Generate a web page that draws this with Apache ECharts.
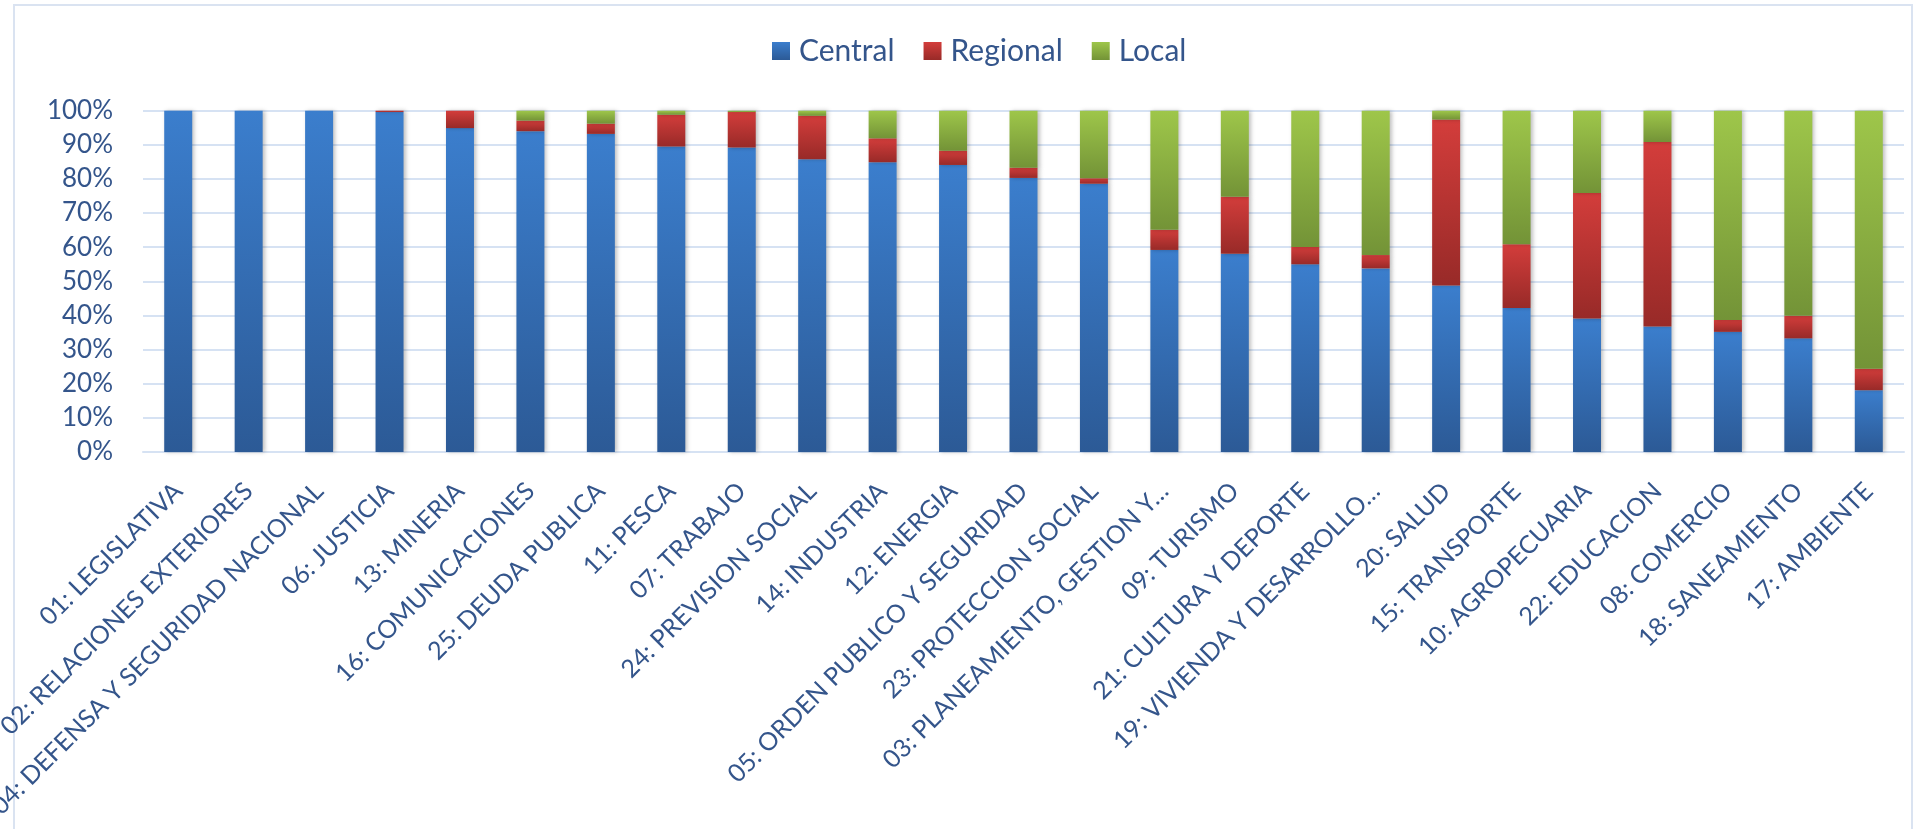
<!DOCTYPE html>
<html>
<head>
<meta charset="utf-8">
<script src="https://cdn.jsdelivr.net/npm/echarts@6/dist/echarts.min.js"></script>
<style>
html,body{margin:0;padding:0;background:#fff;}
#chart{width:1919px;height:829px;}
</style>
</head>
<body>
<div id="chart"></div>
<script>
const categories = ["01: LEGISLATIVA","02: RELACIONES EXTERIORES","04: DEFENSA Y SEGURIDAD NACIONAL","06: JUSTICIA","13: MINERIA","16: COMUNICACIONES","25: DEUDA PUBLICA","11: PESCA","07: TRABAJO","24: PREVISION SOCIAL","14: INDUSTRIA","12: ENERGIA","05: ORDEN PUBLICO Y SEGURIDAD","23: PROTECCION SOCIAL","03: PLANEAMIENTO, GESTION Y…","09: TURISMO","21: CULTURA Y DEPORTE","19: VIVIENDA Y DESARROLLO…","20: SALUD","15: TRANSPORTE","10: AGROPECUARIA","22: EDUCACION","08: COMERCIO","18: SANEAMIENTO","17: AMBIENTE"];
const central  = [100,100,100,99.6,94.9,94.0,93.2,89.5,89.2,85.8,84.9,84.1,80.3,78.6,59.2,58.1,55.0,53.8,48.8,42.2,39.1,36.8,35.2,33.3,18.1];
const regional = [0,0,0,0.4,5.1,3.1,3.0,9.3,10.4,12.7,7.0,4.2,3.0,1.6,5.9,16.7,5.1,3.9,48.6,18.7,36.8,54.0,3.5,6.6,6.3];
const local    = [0,0,0,0,0,2.9,3.8,1.2,0.4,1.5,8.1,11.7,16.7,19.8,34.9,25.2,39.9,42.3,2.6,39.1,24.1,9.2,61.3,60.1,75.6];
const seriesNames = ["Central","Regional","Local"];

const txt = '#34558b';
const font = 'Lato';
function grad(top, bottom){
  return new echarts.graphic.LinearGradient(0,0,0,1,[{offset:0,color:top},{offset:1,color:bottom}]);
}
const colors = [grad('#3b7ecd','#2c5a96'), grad('#d33d3b','#982a28'), grad('#9ec64a','#739337')];
const dataArr = [central, regional, local];

const chart = echarts.init(document.getElementById('chart'), null, {renderer:'canvas'});
chart.setOption({
  animation:false,
  backgroundColor:'#fff',
  graphic:[{type:'rect', shape:{x:14,y:5,width:1898,height:900}, style:{fill:'none', stroke:'#dae3f1', lineWidth:2}, silent:true, z:-1}],
  legend:{
    left:767, top:31, itemWidth:18, itemHeight:18, itemGap:29,
    icon:'rect',
    textStyle:{fontFamily:font, fontSize:30, color:txt, padding:[0,0,0,4]},
    data:seriesNames
  },
  grid:{left:143, right:15, top:110.7, bottom:377, containLabel:false, outerBoundsMode:'none'},
  xAxis:{
    type:'category', data:categories,
    axisTick:{show:false},
    axisLine:{lineStyle:{color:'#d6e2f3', width:2}},
    axisLabel:{interval:0, rotate:45, margin:35, fontFamily:font, fontSize:25, color:txt}
  },
  yAxis:{
    type:'value', min:0, max:100, interval:10,
    axisLine:{show:false}, axisTick:{show:false},
    splitLine:{lineStyle:{color:'#d6e2f3', width:2}},
    axisLabel:{formatter:'{value}%', margin:30, fontFamily:font, fontSize:26, color:txt}
  },
  series: seriesNames.map((n,i)=>({
    name:n, type:'bar', stack:'total', barWidth:28,
    data:dataArr[i],
    itemStyle:{color:colors[i], shadowBlur:4, shadowColor:'rgba(0,0,0,0.25)', shadowOffsetX:2}
  }))
});
</script>
</body>
</html>
